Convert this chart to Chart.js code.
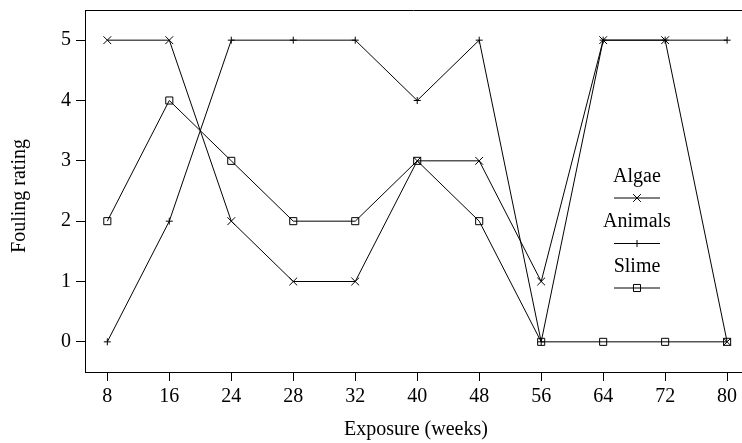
<!DOCTYPE html>
<html>
<head>
<meta charset="utf-8">
<script src="https://cdn.jsdelivr.net/npm/chart.js@4/dist/chart.umd.min.js"></script>
<style>
  html, body { margin: 0; padding: 0; background: #fff; }
  #wrap { width: 742px; height: 443px; }
</style>
</head>
<body>
<div id="wrap"><canvas id="foulingChart" width="742" height="443"></canvas></div>
<script>
// exposure times (weeks), drawn as equally spaced categories
const weeks = [8, 16, 24, 28, 32, 40, 48, 56, 64, 72, 80];
const algae = [5, 5, 2, 1, 1, 3, 3, 1, 5, 5, 0];
const animals = [0, 2, 5, 5, 5, 4, 5, 0, 5, 5, 5];
const slime = [2, 4, 3, 2, 2, 3, 2, 0, 0, 0, 0];
const yTicks = [0, 1, 2, 3, 4, 5];

const FONT = "'Liberation Serif', 'Times New Roman', serif";

function toPoints(values) {
    return values.map((v, i) => ({ x: i, y: v }));
}

function drawMarker(ctx, style, x, y, r) {
    ctx.beginPath();
    if (style === 'crossRot') {
        const d = r * Math.SQRT1_2;
        ctx.moveTo(x - d, y - d); ctx.lineTo(x + d, y + d);
        ctx.moveTo(x - d, y + d); ctx.lineTo(x + d, y - d);
    } else if (style === 'cross') {
        ctx.moveTo(x - r, y); ctx.lineTo(x + r, y);
        ctx.moveTo(x, y - r); ctx.lineTo(x, y + r);
    } else {
        const s = r * Math.SQRT1_2;
        ctx.rect(x - s, y - s, s * 2, s * 2);
    }
    ctx.stroke();
}

// no extra room for half labels at the ends of the axes
function noPad(s) {
    s.paddingLeft = 0;
    s.paddingRight = 0;
    s.paddingTop = 0;
    s.paddingBottom = 0;
}

// frame top line, axis titles and the in-plot legend
const extras = {
    id: 'extras',
    afterDraw(chart) {
        const ctx = chart.ctx;
        const area = chart.chartArea;
        ctx.save();
        ctx.strokeStyle = '#000';
        ctx.lineWidth = 1;
        ctx.beginPath();
        ctx.moveTo(area.left, Math.round(area.top) + 0.5);
        ctx.lineTo(742, Math.round(area.top) + 0.5);
        ctx.stroke();

        ctx.fillStyle = '#000';
        ctx.font = '20px ' + FONT;
        ctx.textAlign = 'center';
        ctx.textBaseline = 'middle';
        ctx.fillText('Exposure (weeks)', 416, 430);

        ctx.save();
        ctx.translate(20, 196);
        ctx.rotate(-Math.PI / 2);
        ctx.fillText('Fouling rating', 0, 0);
        ctx.restore();

        // legend: name above a short line carrying the marker
        const textYs = [177, 222, 267];
        const lineYs = [198, 243.5, 288];
        chart.data.datasets.forEach((ds, i) => {
            ctx.fillText(ds.label, 637, textYs[i]);
            ctx.beginPath();
            ctx.moveTo(614, lineYs[i]);
            ctx.lineTo(660, lineYs[i]);
            ctx.stroke();
            drawMarker(ctx, ds.pointStyle, 637, lineYs[i], ds.pointRadius);
        });
        ctx.restore();
    }
};

const commonLine = {
    borderColor: '#000',
    borderWidth: 1,
    pointBorderColor: '#000',
    pointBackgroundColor: 'rgba(0,0,0,0)',
    pointBorderWidth: 1,
    fill: false,
    tension: 0
};

new Chart(document.getElementById('foulingChart'), {
    type: 'line',
    data: {
        datasets: [
            Object.assign({ label: 'Algae', data: toPoints(algae), pointStyle: 'crossRot', pointRadius: 5.5 }, commonLine),
            Object.assign({ label: 'Animals', data: toPoints(animals), pointStyle: 'cross', pointRadius: 3.5 }, commonLine),
            Object.assign({ label: 'Slime', data: toPoints(slime), pointStyle: 'rect', pointRadius: 5 }, commonLine)
        ]
    },
    options: {
        responsive: false,
        animation: false,
        events: [],
        layout: { autoPadding: false, padding: { top: 10, right: 0, left: 0, bottom: 0 } },
        plugins: { legend: { display: false }, tooltip: { enabled: false } },
        scales: {
            x: {
                type: 'linear',
                min: -0.36,
                max: 10.24,
                afterFit: s => { s.height = 71; noPad(s); },
                afterBuildTicks: s => { s.ticks = weeks.map((w, i) => ({ value: i })); },
                border: { display: true, color: '#000', width: 1 },
                grid: { drawOnChartArea: false, drawTicks: true, tickLength: 9, color: '#000' },
                ticks: {
                    color: '#000',
                    padding: 4,
                    maxRotation: 0,
                    autoSkip: false,
                    font: { family: FONT, size: 20 },
                    callback: v => weeks[v]
                }
            },
            y: {
                type: 'linear',
                min: -0.5,
                max: 5.5,
                afterFit: s => { s.width = 85; noPad(s); },
                afterBuildTicks: s => { s.ticks = yTicks.map(v => ({ value: v })); },
                border: { display: true, color: '#000', width: 1 },
                grid: { drawOnChartArea: false, drawTicks: true, tickLength: 9, color: '#000' },
                ticks: {
                    color: '#000',
                    padding: 5,
                    font: { family: FONT, size: 20 }
                }
            }
        }
    },
    plugins: [extras]
});
</script>
</body>
</html>
